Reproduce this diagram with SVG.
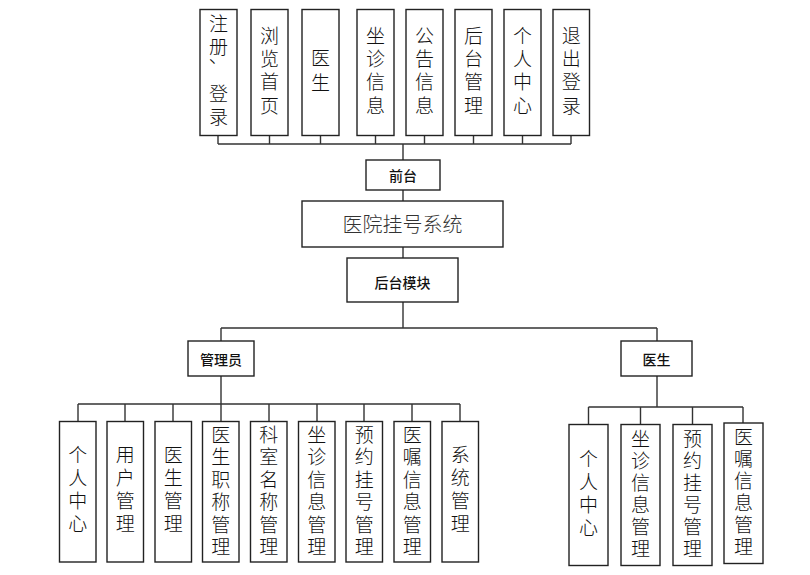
<svg xmlns="http://www.w3.org/2000/svg" width="810" height="575" viewBox="0 0 810 575">
<style>
.box{fill:#fff;stroke:#222;stroke-width:1.4}
.ln{fill:none;stroke:#333;stroke-width:1.4}
.v{font-family:"Noto Sans CJK SC","Liberation Sans",sans-serif;font-size:19px;font-weight:300;fill:#111;text-anchor:middle;writing-mode:vertical-rl;text-orientation:upright}
.t{letter-spacing:4.3px}
.a4{letter-spacing:4px}
.a6{letter-spacing:3.5px}
.d6{letter-spacing:3px}
.h{font-family:"Noto Sans CJK SC","Liberation Sans",sans-serif;font-size:14px;font-weight:500;fill:#111;text-anchor:middle;dominant-baseline:central}
.m{font-family:"Noto Sans CJK SC","Liberation Sans",sans-serif;font-size:20px;font-weight:300;fill:#333;text-anchor:middle;dominant-baseline:central}
</style>
<rect width="810" height="575" fill="#fff"/>
<g id="connectors">
<path class="ln" d="M218 135.5V144M269.5 135.5V144M320.5 135.5V144M375.5 135.5V144M424.5 135.5V144M473.5 135.5V144M522.5 135.5V144M571 135.5V144M218 144H571M403 144V160"/>
<path class="ln" d="M403 190V201M403 247V258M403 302V328M221 328H657M221 328V341M657 328V341"/>
<path class="ln" d="M221 376V404M78 404H460M78 404V421.5M125 404V421.5M173 404V421.5M221 404V421.5M269 404V421.5M317 404V421.5M364 404V421.5M412 404V421.5M460 404V421.5"/>
<path class="ln" d="M657 376V407M588.5 407H743M588.5 407V424.5M640.5 407V424.5M692.5 407V424.5M743 407V423"/>
</g>
<g id="top1"><rect class="box" x="200" y="9.5" width="37" height="126"/><text class="v t" x="218.5" y="72.5">注册<tspan dx="-12" dy="-3">、</tspan><tspan dx="12" dy="3">登录</tspan></text></g>
<g id="top2"><rect class="box" x="251" y="9.5" width="37" height="126"/><text class="v t" x="269.5" y="72.5">浏览首页</text></g>
<g id="top3"><rect class="box" x="302" y="9.5" width="37" height="126"/><text class="v" x="320.5" y="73.5" style="letter-spacing:6px">医生</text></g>
<g id="top4"><rect class="box" x="357" y="9.5" width="37" height="126"/><text class="v t" x="375.5" y="72.5">坐诊信息</text></g>
<g id="top5"><rect class="box" x="406" y="9.5" width="37" height="126"/><text class="v t" x="424.5" y="72.5">公告信息</text></g>
<g id="top6"><rect class="box" x="455" y="9.5" width="37" height="126"/><text class="v t" x="473.5" y="72.5">后台管理</text></g>
<g id="top7"><rect class="box" x="504" y="9.5" width="37" height="126"/><text class="v t" x="522.5" y="72.5">个人中心</text></g>
<g id="top8"><rect class="box" x="553" y="9.5" width="36.5" height="126"/><text class="v t" x="571.2" y="72.5">退出登录</text></g>
<g id="qiantai"><rect class="box" x="366" y="160" width="74" height="30"/><text class="h" x="403" y="175">前台</text></g>
<g id="system"><rect class="box" x="302" y="201" width="201" height="46"/><text class="m" x="402.5" y="223.5">医院挂号系统</text></g>
<g id="houtai"><rect class="box" x="347" y="258" width="111" height="44"/><text class="h" x="402.5" y="281.5">后台模块</text></g>
<g id="admin"><rect class="box" x="188" y="341" width="66" height="35"/><text class="h" x="221" y="359">管理员</text></g>
<g id="doctor"><rect class="box" x="621" y="341" width="71" height="35"/><text class="h" x="656.5" y="359">医生</text></g>
<g id="a1"><rect class="box" x="59.5" y="421.5" width="36.5" height="140.5"/><text class="v a4" x="77.7" y="491.5">个人中心</text></g>
<g id="a2"><rect class="box" x="107" y="421.5" width="36.5" height="140.5"/><text class="v a4" x="125.2" y="491.5">用户管理</text></g>
<g id="a3"><rect class="box" x="155" y="421.5" width="36.5" height="140.5"/><text class="v a4" x="173.2" y="491.5">医生管理</text></g>
<g id="a4"><rect class="box" x="202.5" y="421.5" width="36.5" height="140.5"/><text class="v a6" x="220.7" y="492.3">医生职称管理</text></g>
<g id="a5"><rect class="box" x="250.5" y="421.5" width="36.5" height="140.5"/><text class="v a6" x="268.7" y="492.3">科室名称管理</text></g>
<g id="a6"><rect class="box" x="298.5" y="421.5" width="36.5" height="140.5"/><text class="v a6" x="316.7" y="492.3">坐诊信息管理</text></g>
<g id="a7"><rect class="box" x="346" y="421.5" width="36.5" height="140.5"/><text class="v a6" x="364.2" y="492.3">预约挂号管理</text></g>
<g id="a8"><rect class="box" x="394" y="421.5" width="36.5" height="140.5"/><text class="v a6" x="412.2" y="492.3">医嘱信息管理</text></g>
<g id="a9"><rect class="box" x="442" y="421.5" width="36.5" height="140.5"/><text class="v a4" x="460.2" y="491.5">系统管理</text></g>
<g id="d1"><rect class="box" x="569" y="424.5" width="39" height="141"/><text class="v a4" x="588.5" y="495.5">个人中心</text></g>
<g id="d2"><rect class="box" x="621" y="424.5" width="39" height="141"/><text class="v d6" x="640.5" y="495.5">坐诊信息管理</text></g>
<g id="d3"><rect class="box" x="673" y="424.5" width="39" height="141"/><text class="v d6" x="692.5" y="495.5">预约挂号管理</text></g>
<g id="d4"><rect class="box" x="724" y="423" width="39" height="140.5"/><text class="v d6" x="743.5" y="493.5">医嘱信息管理</text></g>
</svg>
